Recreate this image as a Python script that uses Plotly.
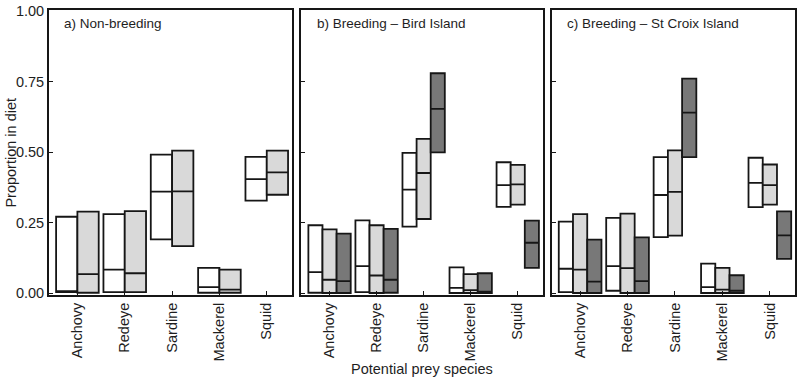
import plotly.graph_objects as go

categories = ["Anchovy", "Redeye", "Sardine", "Mackerel", "Squid"]
y_ticks = [0.0, 0.25, 0.5, 0.75, 1.0]
y_tick_labels = ["0.00", "0.25", "0.50", "0.75", "1.00"]

# Panel a) Non-breeding: two series (white, light grey)
a_white_low = [0.004, 0.004, 0.191, 0.002, 0.328]
a_white_med = [0.006, 0.084, 0.360, 0.022, 0.404]
a_white_high = [0.271, 0.280, 0.491, 0.090, 0.483]
a_grey_low = [0.002, 0.004, 0.167, 0.002, 0.349]
a_grey_med = [0.068, 0.071, 0.361, 0.013, 0.428]
a_grey_high = [0.289, 0.291, 0.505, 0.084, 0.505]

# Panel b) Breeding - Bird Island
b_white_low = [0.002, 0.004, 0.236, 0.001, 0.306]
b_white_med = [0.075, 0.096, 0.367, 0.019, 0.383]
b_white_high = [0.241, 0.258, 0.497, 0.092, 0.464]
b_grey_low = [0.001, 0.001, 0.263, 0.001, 0.314]
b_grey_med = [0.048, 0.063, 0.426, 0.011, 0.386]
b_grey_high = [0.226, 0.241, 0.547, 0.068, 0.455]
b_dark_low = [0.001, 0.002, 0.499, 0.001, 0.090]
b_dark_med = [0.043, 0.048, 0.653, 0.006, 0.179]
b_dark_high = [0.211, 0.228, 0.779, 0.071, 0.257]

# Panel c) Breeding - St Croix Island
c_white_low = [0.004, 0.009, 0.199, 0.001, 0.305]
c_white_med = [0.087, 0.096, 0.348, 0.022, 0.391]
c_white_high = [0.254, 0.267, 0.482, 0.105, 0.480]
c_grey_low = [0.001, 0.001, 0.204, 0.001, 0.314]
c_grey_med = [0.084, 0.089, 0.359, 0.013, 0.383]
c_grey_high = [0.280, 0.282, 0.506, 0.090, 0.456]
c_dark_low = [0.001, 0.001, 0.482, 0.001, 0.122]
c_dark_med = [0.041, 0.043, 0.640, 0.009, 0.205]
c_dark_high = [0.190, 0.198, 0.760, 0.064, 0.290]

panel_titles = ["a) Non-breeding", "b) Breeding \u2013 Bird Island", "c) Breeding \u2013 St Croix Island"]
x_title = "Potential prey species"
y_title = "Proportion in diet"

WHITE = "#ffffff"
LIGHT = "#d9d9d9"
DARK = "#787878"
EDGE = "#161616"
TXT = "#1e1e1e"
FONT = "Liberation Sans, Arial, sans-serif"

fig = go.Figure()


def add_box(low, med, high, color, ax, name):
    sx = "" if ax == 1 else str(ax)
    fig.add_trace(go.Box(
        x=categories, q1=low, median=med, q3=high,
        lowerfence=low, upperfence=high,
        fillcolor=color, line=dict(color=EDGE, width=1.8),
        whiskerwidth=0, boxpoints=False, showlegend=False,
        alignmentgroup="panel" + str(ax), offsetgroup="p%d_%s" % (ax, name),
        xaxis="x" + sx, yaxis="y" + sx,
    ))


add_box(a_white_low, a_white_med, a_white_high, WHITE, 1, "white")
add_box(a_grey_low, a_grey_med, a_grey_high, LIGHT, 1, "grey")
add_box(b_white_low, b_white_med, b_white_high, WHITE, 2, "white")
add_box(b_grey_low, b_grey_med, b_grey_high, LIGHT, 2, "grey")
add_box(b_dark_low, b_dark_med, b_dark_high, DARK, 2, "dark")
add_box(c_white_low, c_white_med, c_white_high, WHITE, 3, "white")
add_box(c_grey_low, c_grey_med, c_grey_high, LIGHT, 3, "grey")
add_box(c_dark_low, c_dark_med, c_dark_high, DARK, 3, "dark")

L, R, T, B = 49, 3, 5, 88
W, H = 800, 383
pw = W - L - R


def dom(x0, x1):
    return [(x0 - L) / pw, (x1 - L) / pw]


domains = [dom(49, 292.5), dom(302, 544), dom(553, 797)]

xcommon = dict(
    type="category", range=[-0.6, 4.53], showline=True, mirror=True,
    linecolor=EDGE, linewidth=1.8, ticks="inside", ticklen=4, tickcolor=EDGE,
    tickangle=-90, tickfont=dict(family=FONT, size=14.5, color=TXT),
    showgrid=False, zeroline=False, fixedrange=True,
)
ycommon = dict(
    range=[-0.006, 1.003], showline=True, mirror=True, linecolor=EDGE,
    linewidth=1.8, ticks="inside", ticklen=4, tickcolor=EDGE,
    tickvals=y_ticks, ticktext=y_tick_labels, ticklabeloverflow="allow",
    tickfont=dict(family=FONT, size=14.5, color=TXT),
    showgrid=False, zeroline=False, fixedrange=True,
)

layout = dict(
    width=W, height=H, margin=dict(l=L, r=R, t=T, b=B),
    plot_bgcolor="white", paper_bgcolor="white",
    boxmode="group", boxgap=0.1, boxgroupgap=0.0,
    font=dict(family=FONT, size=13, color=TXT),
)
for i in range(3):
    sx = "" if i == 0 else str(i + 1)
    layout["xaxis" + sx] = dict(xcommon, domain=domains[i], anchor="y" + sx)
    yd = dict(ycommon, domain=[0, 1], anchor="x" + sx)
    if i > 0:
        yd["showticklabels"] = False
    layout["yaxis" + sx] = yd

fig.update_layout(**layout)

for i, t in enumerate(panel_titles):
    sx = "" if i == 0 else str(i + 1)
    fig.add_annotation(
        text=t, xref="x" + sx + " domain", yref="paper",
        x=0.055, y=0.985, xanchor="left", yanchor="top", showarrow=False,
        font=dict(family=FONT, size=13.5, color=TXT),
    )

fig.add_annotation(
    text=x_title, xref="paper", yref="paper",
    x=(423 - L) / pw, y=-(370 - (H - B)) / (H - T - B), xanchor="center",
    yanchor="middle", showarrow=False,
    font=dict(family=FONT, size=14.5, color=TXT),
)
fig.add_annotation(
    text=y_title, xref="paper", yref="paper", textangle=-90,
    x=(10 - L) / pw, y=0.5, xanchor="center", yanchor="middle",
    showarrow=False, font=dict(family=FONT, size=14.5, color=TXT),
)

fig.write_html("out.html", config={"displayModeBar": False},
               post_script="document.body.style.margin='0px';")
